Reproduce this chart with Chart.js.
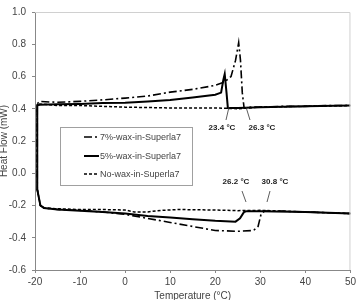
<!DOCTYPE html>
<html>
<head>
<meta charset="utf-8">
<script src="https://cdn.jsdelivr.net/npm/chart.js@4/dist/chart.umd.min.js"></script>
<style>
  html, body { margin: 0; padding: 0; background: #fff; }
  #wrap { width: 359px; height: 300px; }
</style>
</head>
<body>
<div id="wrap"><canvas id="dsc" width="359" height="300"></canvas></div>
<script>
// Data: each run goes cooling (50 -> -20), jumps up at -20, then heating (-20 -> 50)
const wax7Temp = [50, 45, 40, 35, 31, 30.2, 29.5, 28.5, 25, 20, 15, 10, 5, 0, -5, -10, -15, -18, -18.8, -19.5,
                  -19.5, -19, -15, -10, -5, 0, 5, 10, 15, 20, 22, 23.5, 24.5, 25.2, 25.6, 26, 26.4, 28, 30, 35, 40, 45, 50];
const wax7Flow = [-0.25, -0.245, -0.24, -0.235, -0.235, -0.25, -0.33, -0.355, -0.36, -0.355, -0.33, -0.305, -0.28, -0.255, -0.24, -0.23, -0.225, -0.215, -0.2, -0.1,
                  0.43, 0.445, 0.44, 0.446, 0.455, 0.466, 0.479, 0.503, 0.52, 0.545, 0.565, 0.6, 0.7, 0.81, 0.7, 0.5, 0.405, 0.41, 0.41, 0.415, 0.415, 0.42, 0.42];

const wax5Temp = [50, 40, 30, 27, 26.4, 25.5, 24.5, 20, 15, 10, 5, 0, -5, -10, -15, -18, -18.8, -19.5,
                  -19.5, -19, -15, -10, -5, 0, 5, 10, 15, 20, 21.3, 21.8, 22.1, 22.5, 22.8, 25, 30, 40, 50];
const wax5Flow = [-0.25, -0.24, -0.235, -0.235, -0.24, -0.28, -0.3, -0.295, -0.285, -0.275, -0.265, -0.25, -0.24, -0.232, -0.225, -0.215, -0.2, -0.1,
                  0.42, 0.425, 0.428, 0.43, 0.435, 0.437, 0.445, 0.455, 0.47, 0.487, 0.5, 0.58, 0.615, 0.5, 0.405, 0.405, 0.41, 0.415, 0.42];

const noWaxTemp = [50, 45, 40, 30, 25, 20, 12, 8, 5, 2, 0, -5, -10, -15, -18, -18.8, -19.5,
                   -19.5, -19, -15, -10, -5, 0, 10, 20, 25, 30, 40, 50];
const noWaxFlow = [-0.25, -0.245, -0.24, -0.23, -0.232, -0.228, -0.225, -0.23, -0.24, -0.24, -0.228, -0.225, -0.225, -0.22, -0.215, -0.2, -0.1,
                   0.43, 0.43, 0.42, 0.42, 0.415, 0.41, 0.405, 0.405, 0.4, 0.41, 0.415, 0.42];

const seriesNames = ['7%-wax-in-Superla7', '5%-wax-in-Superla7', 'No-wax-in-Superla7'];
const onsetLabels = ['23.4 °C', '26.3 °C', '26.2 °C', '30.8 °C'];

const toPoints = (xs, ys) => xs.map((x, i) => ({ x: x, y: ys[i] }));

// Draws the plot frame, the onset labels and the boxed legend
const extrasPlugin = {
    id: 'extras',
    afterDatasetsDraw(chart) {
        const ctx = chart.ctx;
        const a = chart.chartArea;
        ctx.save();

        // light frame on top and right
        ctx.strokeStyle = '#d0d0d0';
        ctx.lineWidth = 1;
        ctx.beginPath();
        ctx.moveTo(a.left, a.top + 0.5);
        ctx.lineTo(a.right - 0.5, a.top + 0.5);
        ctx.lineTo(a.right - 0.5, a.bottom);
        ctx.stroke();

        // onset labels with pointer lines
        ctx.fillStyle = '#222';
        ctx.font = 'bold 8px "Liberation Sans", Arial, sans-serif';
        ctx.textAlign = 'center';
        ctx.textBaseline = 'middle';
        const labelPos = [[222, 128], [262, 128], [236, 182], [275, 182]];
        labelPos.forEach((p, i) => ctx.fillText(onsetLabels[i], p[0], p[1]));

        ctx.strokeStyle = '#333';
        ctx.lineWidth = 0.8;
        const pointers = [[226, 120, 229, 107], [250, 120, 246, 107], [242, 191, 246, 202], [270, 191, 267, 202]];
        pointers.forEach(l => {
            ctx.beginPath();
            ctx.moveTo(l[0], l[1]);
            ctx.lineTo(l[2], l[3]);
            ctx.stroke();
        });

        // legend box
        ctx.fillStyle = '#fff';
        ctx.fillRect(60, 127, 132, 58);
        ctx.strokeStyle = '#a0a0a0';
        ctx.lineWidth = 1;
        ctx.strokeRect(60.5, 127.5, 132, 58);

        const rowY = [137, 156, 174];
        ctx.font = '9px "Liberation Sans", Arial, sans-serif';
        ctx.textAlign = 'left';
        chart.data.datasets.forEach((ds, i) => {
            ctx.strokeStyle = '#000';
            ctx.lineWidth = ds.borderWidth;
            ctx.setLineDash(ds.borderDash || []);
            ctx.beginPath();
            ctx.moveTo(84, rowY[i]);
            ctx.lineTo(99, rowY[i]);
            ctx.stroke();
            ctx.setLineDash([]);
            ctx.fillStyle = '#444';
            ctx.fillText(seriesNames[i], 100, rowY[i] + 0.5);
        });

        ctx.restore();
    }
};

const tickFont = { family: '"Liberation Sans", Arial, sans-serif', size: 10 };

new Chart(document.getElementById('dsc'), {
    type: 'scatter',
    data: {
        datasets: [{
            label: seriesNames[0],
            data: toPoints(wax7Temp, wax7Flow),
            showLine: true,
            borderColor: '#000',
            borderWidth: 1.6,
            borderDash: [8, 3, 2, 3],
            pointRadius: 0,
            tension: 0
        }, {
            label: seriesNames[1],
            data: toPoints(wax5Temp, wax5Flow),
            showLine: true,
            borderColor: '#000',
            borderWidth: 2,
            pointRadius: 0,
            tension: 0
        }, {
            label: seriesNames[2],
            data: toPoints(noWaxTemp, noWaxFlow),
            showLine: true,
            borderColor: '#000',
            borderWidth: 1.5,
            borderDash: [3, 2],
            pointRadius: 0,
            tension: 0
        }]
    },
    options: {
        responsive: false,
        animation: false,
        layout: { padding: { top: 9, right: 5, left: 0, bottom: 0 } },
        plugins: {
            legend: { display: false },
            tooltip: { enabled: false }
        },
        scales: {
            x: {
                type: 'linear',
                min: -20,
                max: 50,
                afterFit: s => { s.height = 30; },
                ticks: { stepSize: 10, color: '#444', font: tickFont, padding: 3, maxRotation: 0 },
                grid: { drawOnChartArea: false, drawTicks: true, tickLength: 3, color: '#888' },
                border: { color: '#888', width: 1 },
                title: { display: true, text: 'Temperature (°C)', color: '#444', font: tickFont, padding: { top: 0, bottom: -2 } }
            },
            y: {
                min: -0.6,
                max: 1.0,
                afterFit: s => { s.width = 35; },
                ticks: {
                    stepSize: 0.2,
                    color: '#444',
                    font: tickFont,
                    padding: 6,
                    callback: v => v.toFixed(1)
                },
                grid: { drawOnChartArea: false, drawTicks: true, tickLength: 3, color: '#888' },
                border: { color: '#888', width: 1 },
                title: { display: true, text: 'Heat Flow (mW)', color: '#444', font: tickFont, padding: { top: -2, bottom: 0 } }
            }
        }
    },
    plugins: [extrasPlugin]
});
</script>
</body>
</html>
